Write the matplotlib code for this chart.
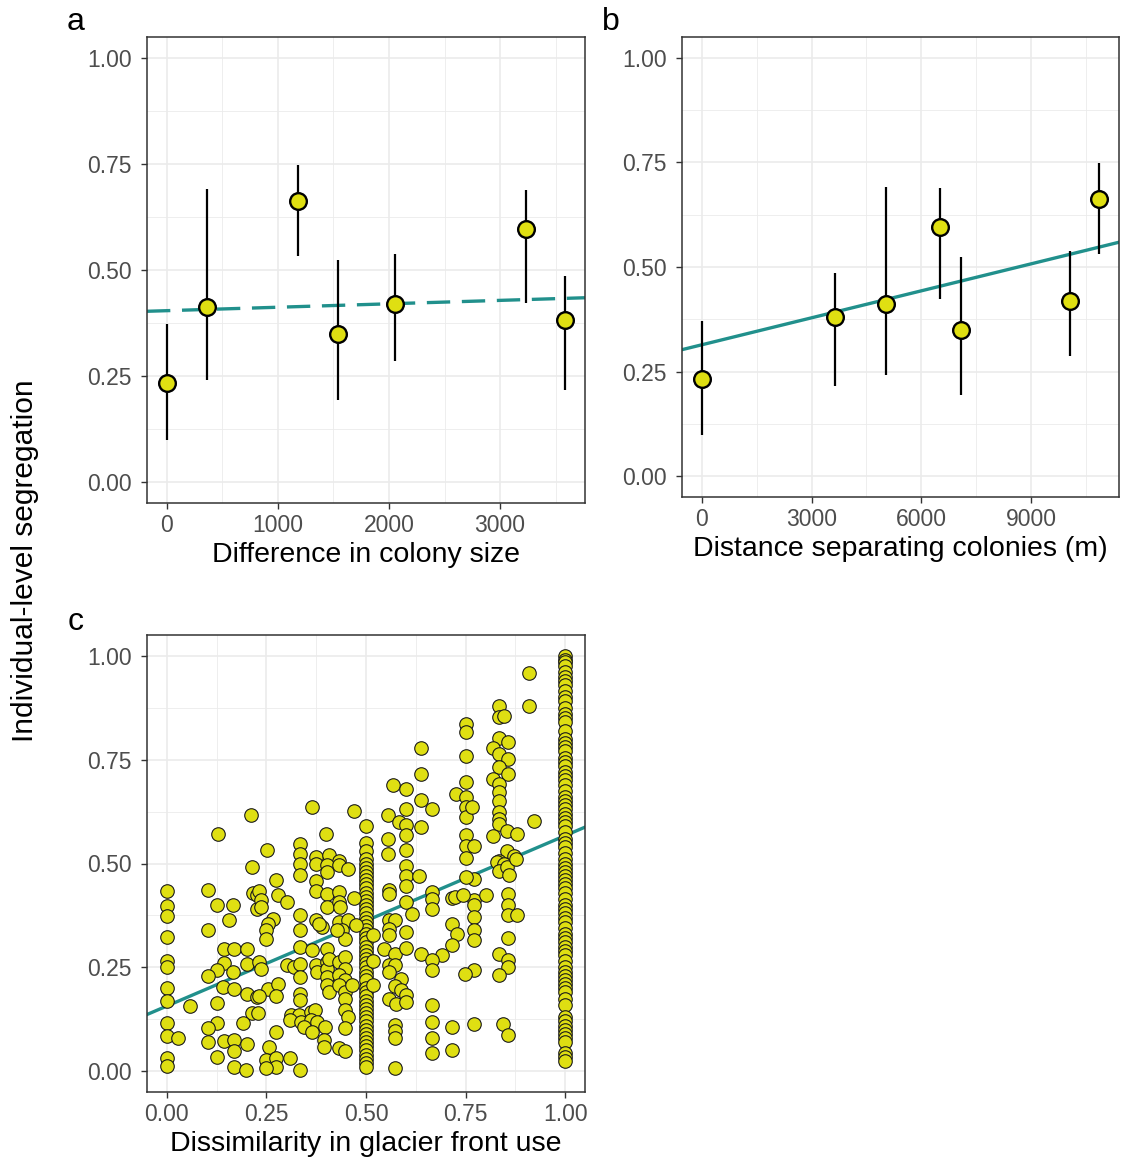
import numpy as np
import matplotlib
matplotlib.use("Agg")
import matplotlib.pyplot as plt

plt.rcParams['font.family'] = ['Liberation Sans', 'DejaVu Sans']

# panel a / b : colony pairs
seg = [0.233, 0.412, 0.663, 0.350, 0.419, 0.596, 0.381]
seg_lo = [0.098, 0.241, 0.532, 0.193, 0.286, 0.423, 0.216]
seg_hi = [0.372, 0.691, 0.748, 0.523, 0.538, 0.688, 0.485]
size_diff = [0, 357, 1185, 1539, 2054, 3236, 3586]
distance = [0, 5041, 10863, 7089, 10056, 6520, 3645]

# fitted lines (intercept, slope)
fit_a = (0.404, 0.0000081)
fit_b = (0.314, 0.0000215)
fit_c = (0.157, 0.41)

# panel c : pairs of individuals
col0_y = [0.434, 0.398, 0.374, 0.324, 0.266, 0.252, 0.201, 0.170, 0.115, 0.084, 0.031, 0.012]
colhalf_y = [0.59, 0.55, 0.53, 0.51, 0.50, 0.49, 0.48, 0.47, 0.46, 0.45, 0.44, 0.43, 0.42,
             0.41, 0.40, 0.39, 0.38, 0.37, 0.36, 0.35, 0.34, 0.33, 0.32, 0.31, 0.30, 0.29,
             0.28, 0.27, 0.26, 0.25, 0.24, 0.23, 0.22, 0.20, 0.19, 0.18, 0.17, 0.16, 0.15,
             0.14, 0.13, 0.12, 0.11, 0.10, 0.09, 0.08, 0.07, 0.06, 0.05, 0.04, 0.03, 0.02, 0.01]
col1_y = [1.0, 0.99, 0.985, 0.975, 0.96, 0.95, 0.94, 0.93, 0.915, 0.90, 0.89, 0.875, 0.86,
          0.85, 0.84, 0.82, 0.80, 0.79, 0.78, 0.77, 0.755, 0.745, 0.735, 0.72, 0.71, 0.70,
          0.69, 0.675, 0.66, 0.65, 0.64, 0.63, 0.62, 0.61, 0.60, 0.59, 0.575, 0.56, 0.55,
          0.54, 0.525, 0.51, 0.50, 0.49, 0.48, 0.47, 0.46, 0.45, 0.44, 0.43, 0.415, 0.40,
          0.39, 0.38, 0.37, 0.36, 0.345, 0.33, 0.32, 0.31, 0.30, 0.29, 0.28, 0.265, 0.25,
          0.24, 0.23, 0.22, 0.21, 0.20, 0.19, 0.175, 0.16, 0.13, 0.12, 0.11, 0.10, 0.09,
          0.08, 0.07, 0.045, 0.035, 0.025]
other_pts = [
    (0.027, 0.080), (0.058, 0.157),
    (0.102, 0.437), (0.126, 0.399), (0.167, 0.401), (0.156, 0.365), (0.102, 0.341), (0.144, 0.293),
    (0.169, 0.295), (0.200, 0.295), (0.144, 0.261), (0.167, 0.239), (0.126, 0.243), (0.102, 0.229),
    (0.200, 0.257), (0.141, 0.203), (0.169, 0.197), (0.200, 0.185), (0.225, 0.179), (0.126, 0.165),
    (0.214, 0.139), (0.192, 0.117), (0.126, 0.117), (0.102, 0.103), (0.102, 0.071), (0.144, 0.073),
    (0.169, 0.075), (0.169, 0.049), (0.200, 0.065), (0.126, 0.035), (0.169, 0.009), (0.198, 0.003),
    (0.214, 0.491), (0.216, 0.430), (0.226, 0.425), (0.226, 0.390),
    (0.211, 0.617), (0.128, 0.572), (0.365, 0.635), (0.470, 0.627), (0.251, 0.532), (0.334, 0.548),
    (0.334, 0.523), (0.375, 0.516), (0.400, 0.571), (0.408, 0.521), (0.431, 0.507),
    (0.569, 0.688), (0.600, 0.680), (0.637, 0.779), (0.637, 0.715), (0.637, 0.652), (0.666, 0.631),
    (0.600, 0.631), (0.556, 0.616), (0.583, 0.599), (0.600, 0.593), (0.637, 0.588), (0.600, 0.568),
    (0.556, 0.559), (0.600, 0.532), (0.556, 0.524), (0.726, 0.667),
    (0.75, 0.835), (0.75, 0.817), (0.75, 0.759), (0.75, 0.695), (0.75, 0.659), (0.75, 0.635),
    (0.75, 0.611), (0.75, 0.568), (0.75, 0.543), (0.75, 0.513), (0.765, 0.636), (0.772, 0.543),
    (0.771, 0.463), (0.75, 0.467), (0.771, 0.411), (0.771, 0.399), (0.771, 0.371), (0.771, 0.339),
    (0.771, 0.315), (0.771, 0.243), (0.771, 0.113),
    (0.909, 0.958), (0.909, 0.878), (0.834, 0.878), (0.834, 0.852), (0.847, 0.854), (0.834, 0.803),
    (0.857, 0.793), (0.818, 0.777), (0.834, 0.763), (0.857, 0.751), (0.834, 0.732), (0.857, 0.716),
    (0.818, 0.703), (0.834, 0.691), (0.834, 0.671), (0.834, 0.651), (0.834, 0.623), (0.834, 0.607),
    (0.834, 0.595), (0.855, 0.579), (0.878, 0.572), (0.818, 0.567), (0.923, 0.603), (0.855, 0.531),
    (0.872, 0.519), (0.834, 0.507),
    (0.830, 0.503), (0.847, 0.499), (0.834, 0.483), (0.855, 0.491), (0.859, 0.472), (0.876, 0.511),
    (0.801, 0.424), (0.857, 0.427), (0.857, 0.399), (0.857, 0.375), (0.878, 0.376), (0.857, 0.321),
    (0.834, 0.283), (0.857, 0.267), (0.857, 0.251), (0.834, 0.231), (0.845, 0.113), (0.857, 0.087),
    (0.334, 0.499), (0.334, 0.472), (0.375, 0.500), (0.401, 0.497), (0.431, 0.497), (0.456, 0.487),
    (0.402, 0.479), (0.274, 0.461), (0.375, 0.459), (0.375, 0.435), (0.402, 0.427), (0.431, 0.431),
    (0.470, 0.417), (0.232, 0.435), (0.237, 0.411), (0.237, 0.395), (0.278, 0.423), (0.301, 0.408),
    (0.402, 0.395), (0.431, 0.408), (0.435, 0.395), (0.334, 0.375), (0.266, 0.367), (0.253, 0.355),
    (0.249, 0.339), (0.249, 0.319), (0.375, 0.363), (0.390, 0.347), (0.381, 0.355), (0.334, 0.341),
    (0.431, 0.360), (0.456, 0.363), (0.476, 0.351), (0.439, 0.339), (0.447, 0.319), (0.427, 0.339),
    (0.334, 0.299), (0.365, 0.291), (0.402, 0.295), (0.232, 0.263), (0.237, 0.247), (0.301, 0.255),
    (0.319, 0.251), (0.334, 0.259), (0.375, 0.255), (0.377, 0.239), (0.402, 0.263), (0.402, 0.247),
    (0.406, 0.271), (0.431, 0.263), (0.447, 0.275), (0.447, 0.247), (0.334, 0.227), (0.402, 0.227),
    (0.431, 0.231), (0.447, 0.219), (0.253, 0.199), (0.278, 0.211), (0.274, 0.181), (0.232, 0.181),
    (0.334, 0.187), (0.334, 0.171), (0.402, 0.207), (0.408, 0.191), (0.431, 0.207), (0.447, 0.191),
    (0.464, 0.207), (0.447, 0.175), (0.228, 0.139), (0.311, 0.135), (0.332, 0.135), (0.361, 0.143),
    (0.373, 0.147), (0.309, 0.123), (0.336, 0.119), (0.361, 0.123), (0.377, 0.119), (0.447, 0.147),
    (0.456, 0.131), (0.447, 0.103), (0.345, 0.107), (0.365, 0.095), (0.398, 0.107), (0.274, 0.095),
    (0.394, 0.075), (0.394, 0.059), (0.431, 0.057), (0.447, 0.049), (0.257, 0.059), (0.249, 0.027),
    (0.274, 0.031), (0.274, 0.009), (0.249, 0.007), (0.309, 0.031), (0.334, 0.003),
    (0.558, 0.437), (0.558, 0.427), (0.600, 0.495), (0.600, 0.469), (0.600, 0.447), (0.633, 0.471),
    (0.600, 0.407), (0.616, 0.379), (0.666, 0.431), (0.666, 0.415), (0.666, 0.391), (0.715, 0.417),
    (0.724, 0.419), (0.744, 0.423), (0.558, 0.363), (0.572, 0.363), (0.558, 0.343), (0.558, 0.327),
    (0.600, 0.336), (0.517, 0.329), (0.715, 0.355), (0.728, 0.331), (0.715, 0.305), (0.690, 0.279),
    (0.546, 0.293), (0.572, 0.283), (0.600, 0.297), (0.637, 0.281), (0.666, 0.267), (0.666, 0.243),
    (0.558, 0.255), (0.572, 0.255), (0.558, 0.239), (0.517, 0.265), (0.517, 0.207), (0.749, 0.235),
    (0.589, 0.223), (0.572, 0.205), (0.589, 0.195), (0.558, 0.175), (0.575, 0.163), (0.600, 0.183),
    (0.600, 0.167), (0.666, 0.159), (0.666, 0.118), (0.715, 0.107), (0.666, 0.079), (0.715, 0.051),
    (0.666, 0.043), (0.572, 0.111), (0.572, 0.097), (0.572, 0.079), (0.572, 0.007),
]

FILL = '#dfdf12'
LINE = '#21908c'
W, H = 1122, 1165


def px_axes(fig, left, top, right, bottom):
    return fig.add_axes([left / W, 1 - bottom / H, (right - left) / W, (bottom - top) / H])


def style(ax, xlim, xticks, xminor, xlabels, xtitle):
    ax.set_xlim(*xlim)
    ax.set_ylim(-0.05, 1.05)
    ax.set_xticks(xticks)
    ax.set_xticklabels(xlabels)
    ax.set_xticks(xminor, minor=True)
    ax.set_yticks([0, 0.25, 0.5, 0.75, 1.0])
    ax.set_yticklabels(['0.00', '0.25', '0.50', '0.75', '1.00'])
    ax.set_yticks([0.125, 0.375, 0.625, 0.875], minor=True)
    ax.grid(which='major', color='#ebebeb', lw=1.2)
    ax.grid(which='minor', color='#ebebeb', lw=0.6)
    ax.set_axisbelow(True)
    for s in ax.spines.values():
        s.set_color('#333333')
        s.set_linewidth(1.1)
    ax.tick_params(which='major', length=4.5, width=1.0, color='#333333',
                   labelsize=16.5, labelcolor='#4d4d4d')
    ax.tick_params(axis='x', which='major', pad=3.5)
    ax.tick_params(axis='y', which='major', pad=6.5)
    ax.tick_params(which='minor', length=0)
    ax.set_xlabel(xtitle, fontsize=20.5, color='black', labelpad=3.5)


fig = plt.figure(figsize=(W / 100, H / 100), dpi=100)

# a
ax = px_axes(fig, 147, 37, 585, 503)
style(ax, (-179, 3765), [0, 1000, 2000, 3000], [500, 1500, 2500, 3500],
      ['0', '1000', '2000', '3000'], 'Difference in colony size')
xx = np.array(ax.get_xlim())
ax.plot(xx, fit_a[0] + fit_a[1] * xx, color=LINE, lw=2.4, dashes=(7, 3.5), zorder=2)
ax.vlines(size_diff, seg_lo, seg_hi, color='black', lw=1.6, zorder=3)
ax.plot(size_diff, seg, 'o', ms=12, mfc=FILL, mec='black', mew=1.7, zorder=4)

# b
ax = px_axes(fig, 682, 37, 1119, 497)
style(ax, (-543, 11406), [0, 3000, 6000, 9000], [1500, 4500, 7500, 10500],
      ['0', '3000', '6000', '9000'], 'Distance separating colonies (m)')
xx = np.array(ax.get_xlim())
ax.plot(xx, fit_b[0] + fit_b[1] * xx, color=LINE, lw=2.4, zorder=2)
ax.vlines(distance, seg_lo, seg_hi, color='black', lw=1.6, zorder=3)
ax.plot(distance, seg, 'o', ms=12, mfc=FILL, mec='black', mew=1.7, zorder=4)

# c
ax = px_axes(fig, 147, 635, 585, 1092)
style(ax, (-0.05, 1.05), [0, 0.25, 0.5, 0.75, 1.0], [0.125, 0.375, 0.625, 0.875],
      ['0.00', '0.25', '0.50', '0.75', '1.00'], 'Dissimilarity in glacier front use')
xx = np.array(ax.get_xlim())
ax.plot(xx, fit_c[0] + fit_c[1] * xx, color=LINE, lw=2.4, zorder=2)
cx = [0.0] * len(col0_y) + [0.5] * len(colhalf_y) + [1.0] * len(col1_y) + [p[0] for p in other_pts]
cy = col0_y + colhalf_y + col1_y + [p[1] for p in other_pts]
ax.scatter(cx, cy, s=95, c=FILL, edgecolors='#1a1a1a', linewidths=0.8, zorder=3)

fig.text(76 / W, 1 - 22 / H, 'a', fontsize=23, ha='center', va='center')
fig.text(611 / W, 1 - 22 / H, 'b', fontsize=23, ha='center', va='center')
fig.text(76 / W, 1 - 622 / H, 'c', fontsize=23, ha='center', va='center')
fig.text(25 / W, 1 - 561 / H, 'Individual-level segregation', fontsize=21.5,
         rotation=90, ha='center', va='center')

fig.savefig('out.png', dpi=100)
